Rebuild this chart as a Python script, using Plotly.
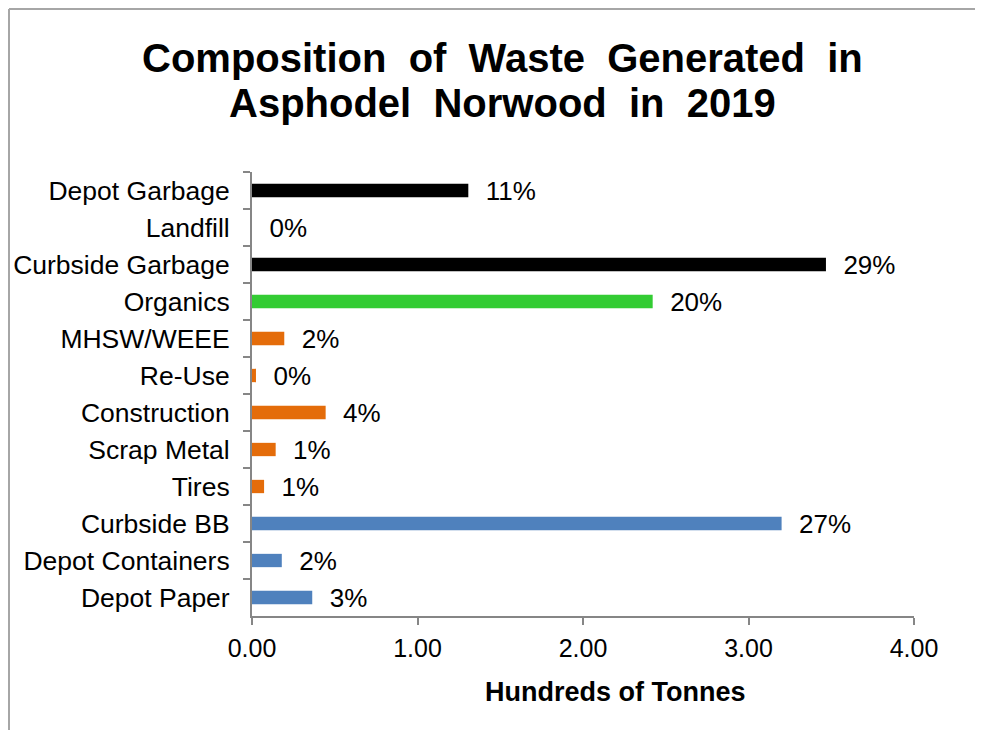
import plotly.graph_objects as go

categories = ["Depot Garbage", "Landfill", "Curbside Garbage", "Organics", "MHSW/WEEE",
              "Re-Use", "Construction", "Scrap Metal", "Tires", "Curbside BB",
              "Depot Containers", "Depot Paper"]
tonnes_hundreds = [1.307, 0.0, 3.468, 2.421, 0.195, 0.024, 0.445, 0.143, 0.073, 3.20, 0.18, 0.364]
percent_labels = ["11%", "0%", "29%", "20%", "2%", "0%", "4%", "1%", "1%", "27%", "2%", "3%"]
groups = ["garbage", "garbage", "garbage", "organics", "diverted", "diverted", "diverted",
          "diverted", "diverted", "recycling", "recycling", "recycling"]
x_tick_vals = [0, 1, 2, 3, 4]
x_tick_text = ["0.00", "1.00", "2.00", "3.00", "4.00"]
title_lines = ["Composition&nbsp; of&nbsp; Waste&nbsp; Generated&nbsp; in",
               "Asphodel&nbsp; Norwood&nbsp; in&nbsp; 2019"]
x_title = "Hundreds of Tonnes"

group_colors = {"garbage": "#000000", "organics": "#33CC33",
                "diverted": "#E46C0A", "recycling": "#4F81BD"}

# the page body adds an 8px margin; work in screen pixels and shift
OFF = 8
W, H = 983 - OFF, 730 - OFF
L, T = 252 - OFF, 172 - OFF
R, B = 983 - 914, 730 - 616
PW, PH = W - L - R, H - T - B
FONT = "Liberation Sans, Arial, sans-serif"
AXC = "#868686"


def px_x(p):
    return (p - OFF - L) / PW


def px_y(p):
    return (H - B - (p - OFF)) / PH


fig = go.Figure()
fig.add_trace(go.Bar(
    y=categories, x=tonnes_hundreds, orientation="h",
    marker=dict(color=[group_colors[g] for g in groups], line=dict(width=0)),
    width=0.36,
    text=["  " + t for t in percent_labels], textposition="outside",
    constraintext="none",
    textfont=dict(family=FONT, size=26, color="#000000"),
    cliponaxis=False, showlegend=False,
))

fig.update_layout(
    width=W, height=H,
    margin=dict(l=L, r=R, t=T, b=B, autoexpand=False),
    paper_bgcolor="white", plot_bgcolor="white",
    font=dict(family=FONT, color="#000000"),
)

fig.update_xaxes(range=[0, 4], tickvals=x_tick_vals, ticktext=x_tick_text, automargin=False,
                 showgrid=False, zeroline=False, showline=True, linecolor=AXC, linewidth=2,
                 ticks="outside", ticklen=7, tickwidth=2, tickcolor=AXC,
                 tickfont=dict(family=FONT, size=25, color="#000000"),
                 ticklabelstandoff=2)
fig.update_yaxes(categoryorder="array", categoryarray=categories, autorange="reversed",
                 automargin=False,
                 showgrid=False, zeroline=False, showline=True, linecolor=AXC, linewidth=2,
                 ticks="outside", ticklen=7, tickwidth=2, tickcolor=AXC, tickson="boundaries",
                 tickfont=dict(family=FONT, size=26.5, color="#000000"),
                 ticklabelstandoff=15)

for line, yc in zip(title_lines, [58, 103]):
    fig.add_annotation(text="<b>" + line + "</b>", x=px_x(502), y=px_y(yc),
                       xref="paper", yref="paper", showarrow=False,
                       xanchor="center", yanchor="middle",
                       font=dict(family=FONT, size=40, color="#000000"))

fig.add_annotation(text="<b>" + x_title + "</b>", x=px_x(615), y=px_y(692),
                   xref="paper", yref="paper", showarrow=False,
                   xanchor="center", yanchor="middle",
                   font=dict(family=FONT, size=27, color="#000000"))

# outer chart frame (left and top edges visible)
fig.add_shape(type="line", xref="paper", yref="paper",
              x0=px_x(9), x1=px_x(9), y0=px_y(9), y1=px_y(740),
              line=dict(color="#A6A6A6", width=2), layer="above")
fig.add_shape(type="line", xref="paper", yref="paper",
              x0=px_x(9), x1=px_x(990), y0=px_y(9), y1=px_y(9),
              line=dict(color="#A6A6A6", width=2), layer="above")

fig.write_html("out.html")
